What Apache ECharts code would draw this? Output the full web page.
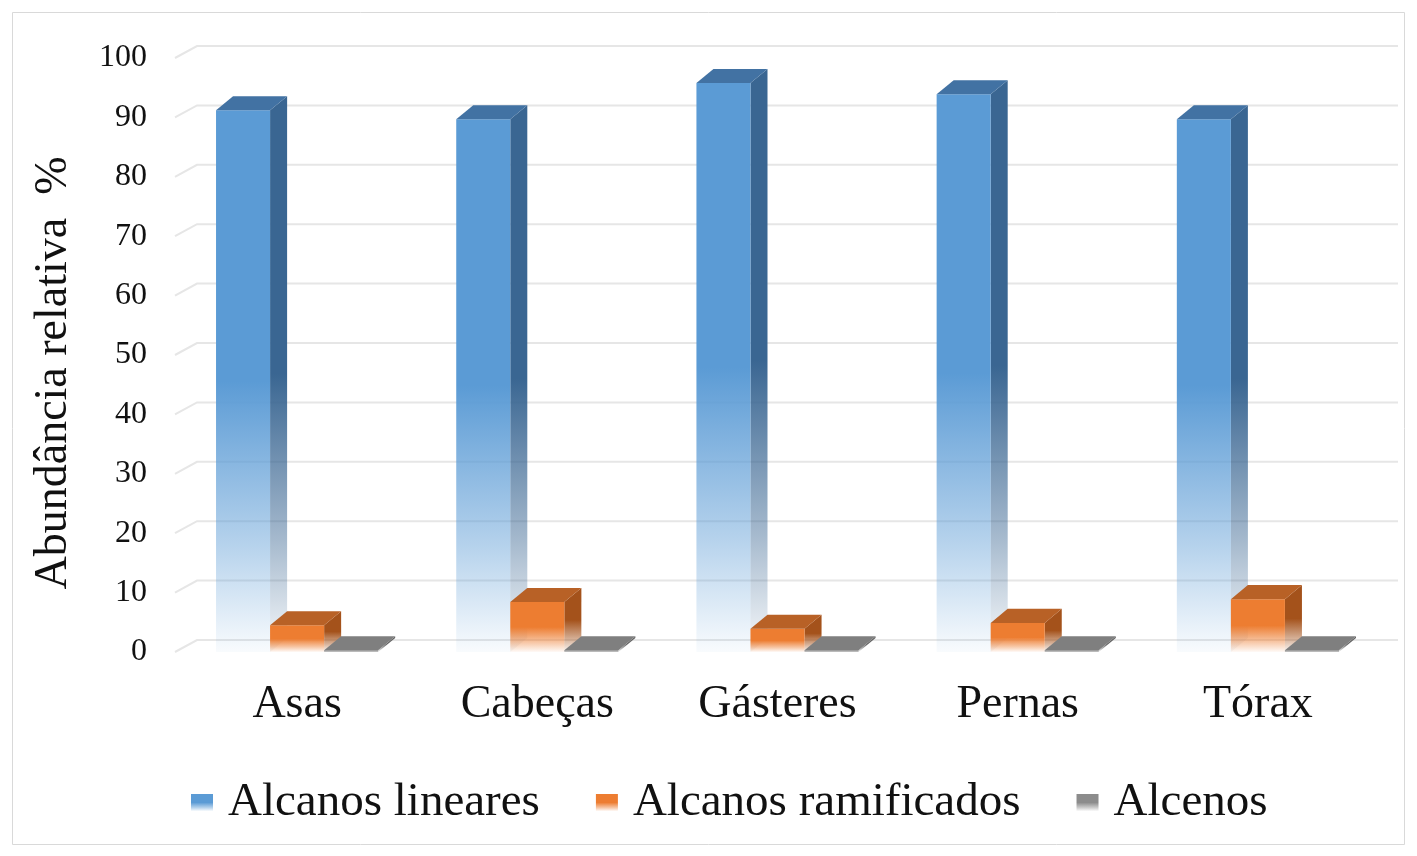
<!DOCTYPE html>
<html>
<head>
<meta charset="utf-8">
<script src="https://cdn.jsdelivr.net/npm/echarts@6/dist/echarts.min.js"></script>
<style>
  html, body { margin: 0; padding: 0; background: #ffffff; }
  #chart { width: 1417px; height: 856px; }
</style>
</head>
<body>
<div id="chart"></div>
<script>
// Relative abundance (%) of hydrocarbon classes per body part
const categories = ['Asas', 'Cabeças', 'Gásteres', 'Pernas', 'Tórax'];
const alcanosLineares = [91.2, 89.7, 95.8, 93.9, 89.7];
const alcanosRamificados = [4.5, 8.4, 3.9, 4.9, 8.9];
const alcenos = [0.3, 0.3, 0.3, 0.3, 0.3];
const yTicks = [0, 10, 20, 30, 40, 50, 60, 70, 80, 90, 100];
const seriesNames = ['Alcanos lineares', 'Alcanos ramificados', 'Alcenos'];

const FONT = "'Liberation Serif', 'Times New Roman', serif";

const palettes = [
  { front: [91, 155, 213], side: [58, 102, 146], top: [66, 114, 163] },
  { front: [237, 125, 49], side: [164, 82, 27], top: [184, 97, 38] },
  { front: [140, 140, 140], side: [100, 100, 100], top: [127, 127, 127] }
];

function rgba(c, a) { return 'rgba(' + c[0] + ',' + c[1] + ',' + c[2] + ',' + a + ')'; }

function fade(c) {
  return new echarts.graphic.LinearGradient(0, 0, 0, 1, [
    { offset: 0, color: rgba(c, 1) },
    { offset: 0.5, color: rgba(c, 1) },
    { offset: 0.8, color: rgba(c, 0.45) },
    { offset: 1, color: rgba(c, 0.04) }
  ]);
}

// 3D column: front face, right side face and top face
function bar3d(idx, pal) {
  return function (params, api) {
    const cat = api.value(0);
    const v = api.value(1);
    const base = api.coord([cat, 0]);
    const top = api.coord([cat, v]);
    const band = api.size([1, 0])[0];
    const bw = band * 0.225;
    const x0 = base[0] - 1.5 * bw + idx * bw;
    const x1 = x0 + bw;
    const yb = base[1];
    const yt = top[1];
    const dx = bw * 0.315;
    const dy = bw * 0.26;
    return {
      type: 'group',
      children: [
        {
          type: 'polygon',
          shape: { points: [[x1, yt], [x1 + dx, yt - dy], [x1 + dx, yb - dy], [x1, yb]] },
          style: { fill: fade(pal.side) }
        },
        {
          type: 'rect',
          shape: { x: x0, y: yt, width: bw, height: Math.max(yb - yt, 0.5) },
          style: { fill: fade(pal.front) }
        },
        {
          type: 'polygon',
          shape: { points: [[x0, yt], [x0 + dx, yt - dy], [x1 + dx, yt - dy], [x1, yt]] },
          style: { fill: rgba(pal.top, 1) }
        }
      ]
    };
  };
}

// Back-wall gridlines: short diagonal on the side wall, then across the back
function wallGrid(params, api) {
  const cs = params.coordSys;
  const y = api.coord([0, api.value(1)])[1];
  const dx = 20, dy = 12;
  return {
    type: 'polyline',
    shape: { points: [[cs.x - 2, y], [cs.x + dx, y - dy], [cs.x + cs.width + dx, y - dy]] },
    style: { stroke: '#E6E6E6', lineWidth: 2, fill: null }
  };
}

const seriesData = [alcanosLineares, alcanosRamificados, alcenos];

const chart = echarts.init(document.getElementById('chart'), null, { renderer: 'canvas' });

const series = [{
  type: 'custom',
  name: 'grid',
  silent: true,
  z: 1,
  clip: false,
  renderItem: wallGrid,
  data: yTicks.map(function (t) { return [0, t]; })
}];

seriesData.forEach(function (vals, i) {
  series.push({
    type: 'custom',
    name: seriesNames[i],
    z: 2 + i,
    clip: false,
    renderItem: bar3d(i, palettes[i]),
    itemStyle: { color: fade(palettes[i].front) },
    data: vals.map(function (v, k) { return [k, v]; })
  });
});

chart.setOption({
  animation: false,
  backgroundColor: '#ffffff',
  graphic: [{
    type: 'rect',
    shape: { x: 12.5, y: 12.5, width: 1392, height: 832 },
    style: { fill: null, stroke: '#D9D9D9', lineWidth: 1 },
    z: -10
  }],
  grid: { left: 177, right: 39, top: 58, bottom: 204 },
  xAxis: {
    type: 'category',
    data: categories,
    axisLine: { show: false },
    axisTick: { show: false },
    splitLine: { show: false },
    axisLabel: { margin: 30, fontSize: 46, fontFamily: FONT, color: '#111' }
  },
  yAxis: {
    type: 'value',
    min: yTicks[0],
    max: yTicks[yTicks.length - 1],
    interval: 10,
    axisLine: { show: false },
    axisTick: { show: false },
    splitLine: { show: false },
    axisLabel: { margin: 30, fontSize: 32, fontFamily: FONT, color: '#111' },
    name: 'Abundância relativa  %',
    nameLocation: 'middle',
    nameGap: 100,
    nameTextStyle: { fontSize: 46, fontFamily: FONT, color: '#111', padding: [0, 36, 0, 0] }
  },
  legend: {
    data: seriesNames,
    left: 186,
    top: 774,
    icon: 'rect',
    itemWidth: 22,
    itemHeight: 17,
    itemGap: 56,
    textStyle: { fontSize: 47, fontFamily: FONT, color: '#111', padding: [0, 0, 0, 10] }
  },
  series: series
});
</script>
</body>
</html>
